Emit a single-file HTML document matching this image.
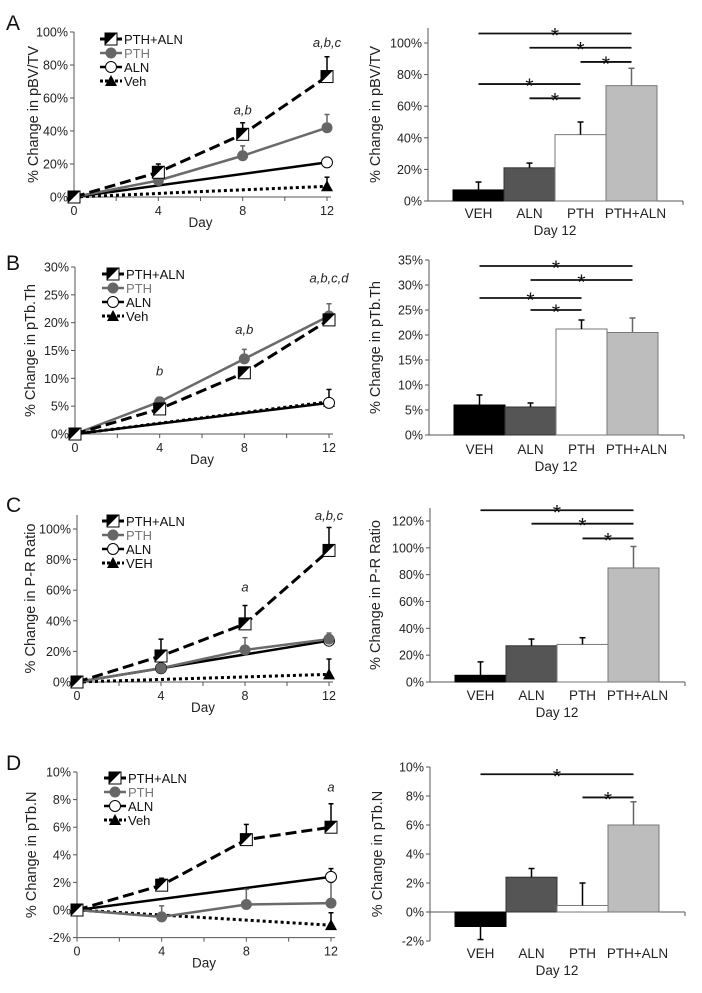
<!DOCTYPE html>
<html><head><meta charset="utf-8">
<style>
html,body{margin:0;padding:0;background:#fff;}
svg{display:block;font-family:"Liberation Sans",Arial,sans-serif;}
</style></head>
<body>
<svg id="fig" width="702" height="993" viewBox="0 0 702 993" xmlns="http://www.w3.org/2000/svg"></svg>
<script>
// ---------- DATA ----------
const days = [0, 4, 8, 12];
const groups = ["VEH", "ALN", "PTH", "PTH+ALN"];
// Panel A (pBV/TV)
const aPthAln = [0, 15, 38, 73];      const aPthAlnErr = [0, 20, 45, 85];
const aPth = [0, 10, 25, 42];         const aPthErr = [0, 10, 31, 50];
const aAln = [0, null, null, 21];     const aAlnErr = [0, null, null, 24];
const aVeh = [0, null, null, 6.5];    const aVehErr = [0, null, null, 12];
const aBars = [7, 21, 42, 73];        const aBarErr = [12, 24, 50, 84];
const aTicks = [0, 20, 40, 60, 80, 100];
// Panel B (pTb.Th)
const bPthAln = [0, 4.5, 11, 20.5];   const bPthAlnErr = [0, 5, 11.5, 21];
const bPth = [0, 5.8, 13.5, 21.2];    const bPthErr = [0, 6.6, 15.2, 23.4];
const bAln = [0, null, null, 5.6];    const bAlnErr = [0, null, null, 6.2];
const bVeh = [0, null, null, 5.8];    const bVehErr = [0, null, null, 8];
const bBars = [6, 5.6, 21.2, 20.5];   const bBarErr = [8, 6.4, 23, 23.4];
const bTicks = [0, 5, 10, 15, 20, 25, 30];
const bTicksR = [0, 5, 10, 15, 20, 25, 30, 35];
// Panel C (P-R ratio)
const cPthAln = [0, 17, 38, 86];      const cPthAlnErr = [0, 28, 50, 101];
const cPth = [0, 9, 21, 28];          const cPthErr = [0, 9, 29, 32];
const cAln = [0, 9, null, 27];        const cAlnErr = [0, 9, null, 30];
const cVeh = [0, null, null, 5];      const cVehErr = [0, null, null, 15];
const cBars = [5, 27, 28, 85];        const cBarErr = [15, 32, 33, 101];
const cTicks = [0, 20, 40, 60, 80, 100];
const cTicksR = [0, 20, 40, 60, 80, 100, 120];
// Panel D (pTb.N)
const dPthAln = [0, 1.8, 5.1, 6.0];   const dPthAlnErr = [0, 2.3, 6.2, 7.7];
const dPth = [0, -0.5, 0.4, 0.5];     const dPthErr = [0, 0.3, 1.5, 2.0];
const dAln = [0, null, null, 2.4];    const dAlnErr = [0, null, null, 3.0];
const dVeh = [0, null, null, -1.1];   const dVehErr = [0, null, null, -0.2];
const dBars = [-1, 2.4, 0.45, 6.0];   const dBarErr = [-1.9, 3.0, 2.0, 7.6];
const dTicks = [-2, 0, 2, 4, 6, 8, 10];
// Significance brackets [fromGroup, toGroup, yValue]
const aSig = [[0,3,106],[1,3,97],[2,3,88],[0,2,74],[1,2,65]];
const bSig = [[0,3,33.8],[1,3,31],[0,2,27.4],[1,2,25]];
const cSig = [[0,3,128],[1,3,118],[2,3,107]];
const dSig = [[0,3,9.5],[2,3,7.9]];
// Annotations [day, yValue, text]
const aNotes = [[8, 50, "a,b"], [12, 91, "a,b,c"]];
const bNotes = [[4, 10.5, "b"], [8, 18, "a,b"], [12, 27.2, "a,b,c,d"]];
const cNotes = [[8, 59, "a"], [12, 106, "a,b,c"]];
const dNotes = [[12, 8.6, "a"]];

// ---------- RENDER ----------
const NS = "http://www.w3.org/2000/svg";
const svg = document.getElementById("fig");
function mk(tag, attrs, parent, text) {
  const e = document.createElementNS(NS, tag);
  for (const k in attrs) e.setAttribute(k, attrs[k]);
  if (text !== undefined) e.textContent = text;
  (parent || svg).appendChild(e);
  return e;
}
function lin(v0, p0, v1, p1) { return v => p0 + (v - v0) * (p1 - p0) / (v1 - v0); }

function marker(g, kind, x, y) {
  if (kind === "pthaln") {
    mk("rect", {x: x-6, y: y-6, width: 12, height: 12, fill: "#fff", stroke: "#000", "stroke-width": 1}, g);
    mk("polygon", {points: `${x-6},${y-6} ${x+6},${y-6} ${x-6},${y+6}`, fill: "#000"}, g);
  } else if (kind === "pth") {
    mk("circle", {cx: x, cy: y, r: 5.5, fill: "#666"}, g);
  } else if (kind === "aln") {
    mk("circle", {cx: x, cy: y, r: 5.5, fill: "#fff", stroke: "#000", "stroke-width": 1}, g);
  } else {
    mk("polygon", {points: `${x},${y-6} ${x+6},${y+5} ${x-6},${y+5}`, fill: "#000"}, g);
  }
}
const styles = {
  pthaln: {stroke: "#000", w: 3, dash: "11,5"},
  pth: {stroke: "#6a6a6a", w: 2.5, dash: ""},
  aln: {stroke: "#000", w: 2.5, dash: ""},
  veh: {stroke: "#000", w: 3, dash: "3,3"}
};

function lineChart(p) {
  const g = mk("g", {});
  
  
  const xs = lin(0, p.x0, 12, p.x12);
  const ys = lin(0, p.y0, p.refV, p.refY);
  const bottom = ys(p.ticks[0]);
  const top = p.top !== undefined ? p.top : ys(p.ticks[p.ticks.length-1]);
  mk("line", {x1: p.x0, y1: top, x2: p.x0, y2: bottom, stroke: "#555", "stroke-width": 1}, g);
  mk("line", {x1: p.x0, y1: bottom, x2: p.x12 + 4, y2: bottom, stroke: "#555", "stroke-width": 1}, g);
  p.ticks.forEach(t => {
    const y = ys(t);
    mk("line", {x1: p.x0 - 4, y1: y, x2: p.x0, y2: y, stroke: "#555"}, g);
    const tl = mk("text", {x: p.x0 - 6, y: y + 4.5, "text-anchor": "end", "font-size": 12.5, fill: "#222"}, g, t + "%");
    
    
  });
  for (let d = 0; d <= 12; d += 2) {
    const x = xs(d);
    mk("line", {x1: x, y1: bottom, x2: x, y2: bottom + 4, stroke: "#555"}, g);
    if (d % 4 === 0) {
      const xl = mk("text", {x: x, y: bottom + 18, "text-anchor": "middle", "font-size": 12.5, fill: "#222"}, g, String(d));
      
      
    }
  }
  const xt = mk("text", {x: (p.x0 + p.x12)/2, y: bottom + 30, "text-anchor": "middle", "font-size": 13.5, fill: "#222"}, g, "Day");
  
  
  const cy = (top + bottom) / 2;
  const yt = mk("text", {x: 0, y: 0, transform: `translate(${p.titleX},${cy}) rotate(-90)`, "text-anchor": "middle", "font-size": 14.5, fill: "#222"}, g, p.title);
  
  
  const order = ["veh", "aln", "pth", "pthaln"];
  order.forEach(k => {
    const s = p.series[k];
    const pts = [];
    s.vals.forEach((v, i) => { if (v !== null) pts.push([xs(days[i]), ys(v), i]); });
    const ec = k === "pth" ? "#666" : "#000";
    s.err.forEach((e, i) => {
      if (e === null || s.vals[i] === null || i === 0) return;
      const x = xs(days[i]);
      const eb = mk("line", {x1: x, y1: ys(s.vals[i]), x2: x, y2: ys(e), stroke: ec, "stroke-width": 1.5}, g);
      
      
      mk("line", {x1: x - 2.5, y1: ys(e), x2: x + 2.5, y2: ys(e), stroke: ec, "stroke-width": 1.5}, g);
    });
    const st = styles[k];
    const pl = mk("polyline", {points: pts.map(q => q[0] + "," + q[1]).join(" "), fill: "none", stroke: st.stroke, "stroke-width": st.w, "stroke-dasharray": st.dash}, g);
    
    
    s.pts = pts;
  });
  order.forEach(k => {
    p.series[k].pts.forEach(q => marker(g, k, q[0], q[1]));
  });
  const labels = {pthaln: "PTH+ALN", pth: "PTH", aln: "ALN", veh: p.vehLabel};
  ["pthaln", "pth", "aln", "veh"].forEach((k, i) => {
    const y = p.legY + i * 14;
    const lg = mk("g", {}, g);
    
    
    const st = styles[k];
    mk("line", {x1: p.legX, y1: y, x2: p.legX + 22, y2: y, stroke: st.stroke, "stroke-width": st.w, "stroke-dasharray": k === "veh" ? "3,2" : ""}, lg);
    marker(lg, k, p.legX + 11, y);
    mk("text", {x: p.legX + 24, y: y + 5, "font-size": 13, fill: k === "pth" ? "#777" : "#111"}, lg, labels[k]);
  });
  p.notes.forEach(n => {
    const t = mk("text", {x: xs(n[0]), y: ys(n[1]), "text-anchor": "middle", "font-size": 13, "font-style": "italic", fill: "#222"}, g, n[2]);
    
    
  });
  const L = mk("text", {x: p.letterX, y: p.letterY, "font-size": 21, fill: "#111"}, g, p.letter);
  
  
}

function barChart(p) {
  const g = mk("g", {});
  
  
  const ys = lin(0, p.y0, p.refV, p.refY);
  const bw = 51;
  const x0 = p.barStart;
  const bottom = ys(p.ticks[0]);
  const base = ys(0);
  mk("line", {x1: p.ax, y1: p.top, x2: p.ax, y2: bottom, stroke: "#555"}, g);
  mk("line", {x1: p.ax, y1: base, x2: p.axEnd, y2: base, stroke: "#555"}, g);
  mk("line", {x1: p.axEnd, y1: base, x2: p.axEnd, y2: base + 4, stroke: "#555"}, g);
  p.ticks.forEach(t => {
    const y = ys(t);
    mk("line", {x1: p.ax - 4, y1: y, x2: p.ax, y2: y, stroke: "#555"}, g);
    const tl = mk("text", {x: p.ax - 6, y: y + 4.5, "text-anchor": "end", "font-size": 12.5, fill: "#222"}, g, t + "%");
    
    
  });
  const fills = ["#000", "#555", "#fff", "#bdbdbd"];
  const strokes = ["#000", "#333", "#777", "#777"];
  p.vals.forEach((v, i) => {
    const x = x0 + i * bw;
    const y1 = ys(Math.max(v, 0)), y2 = ys(Math.min(v, 0));
    const b = mk("rect", {x: x, y: y1, width: bw, height: Math.max(y2 - y1, 0.5), fill: fills[i], stroke: strokes[i], "stroke-width": 1}, g);
    
    
    const cx = x + bw / 2;
    const ec = i === 3 ? "#666" : "#000";
    const eb = mk("line", {x1: cx, y1: ys(v), x2: cx, y2: ys(p.err[i]), stroke: ec, "stroke-width": 1.5}, g);
    
    
    mk("line", {x1: cx - 3, y1: ys(p.err[i]), x2: cx + 3, y2: ys(p.err[i]), stroke: ec, "stroke-width": 1.5}, g);
    const lab = mk("text", {x: cx + (i === 3 ? 4 : 0), y: p.labY, "text-anchor": "middle", "font-size": 13.5, fill: "#222"}, g, groups[i]);
    
    
  });
  const dt = mk("text", {x: x0 + 2 * bw, y: p.labY + 17, "text-anchor": "middle", "font-size": 13.5, fill: "#222"}, g, "Day 12");
  
  
  p.sig.forEach(s => {
    const xa = x0 + s[0] * bw + bw / 2, xb = x0 + s[1] * bw + bw / 2, y = ys(s[2]);
    const sl = mk("line", {x1: xa, y1: y, x2: xb, y2: y, stroke: "#111", "stroke-width": 1.8}, g);
    
    
    const st = mk("text", {x: (xa + xb) / 2, y: y + 9, "text-anchor": "middle", "font-size": 21, fill: "#111"}, g, "*");
    
    
  });
  const cy = (p.top + bottom) / 2;
  const yt = mk("text", {x: 0, y: 0, transform: `translate(${p.titleX},${cy}) rotate(-90)`, "text-anchor": "middle", "font-size": 14.5, fill: "#222"}, g, p.title);
  
  
}

lineChart({name: "panel-a-line-chart", letter: "A", letterX: 6, letterY: 30, x0: 74, x12: 327, y0: 197, refV: 100, refY: 32,
  ticks: aTicks, title: "% Change in pBV/TV", titleX: 38, legX: 100, legY: 39, vehLabel: "Veh", notes: aNotes,
  series: {pthaln: {vals: aPthAln, err: aPthAlnErr}, pth: {vals: aPth, err: aPthErr}, aln: {vals: aAln, err: aAlnErr}, veh: {vals: aVeh, err: aVehErr}}});
barChart({name: "panel-a-bar-chart", ax: 428, axEnd: 683, top: 28, y0: 201, refV: 100, refY: 43, ticks: aTicks, barStart: 453,
  vals: aBars, err: aBarErr, sig: aSig, labY: 218, title: "% Change in pBV/TV", titleX: 380});

lineChart({name: "panel-b-line-chart", letter: "B", letterX: 6, letterY: 270, x0: 75, x12: 329, y0: 434, refV: 30, refY: 267,
  ticks: bTicks, title: "% Change in pTb.Th", titleX: 35, legX: 102, legY: 274, vehLabel: "Veh", notes: bNotes,
  series: {pthaln: {vals: bPthAln, err: bPthAlnErr}, pth: {vals: bPth, err: bPthErr}, aln: {vals: bAln, err: bAlnErr}, veh: {vals: bVeh, err: bVehErr}}});
barChart({name: "panel-b-bar-chart", ax: 429, axEnd: 684, top: 260, y0: 435, refV: 35, refY: 260, ticks: bTicksR, barStart: 454,
  vals: bBars, err: bBarErr, sig: bSig, labY: 454, title: "% Change in pTb.Th", titleX: 380});

lineChart({name: "panel-c-line-chart", letter: "C", letterX: 6, letterY: 512, x0: 77, x12: 329, y0: 682, refV: 100, refY: 529, top: 515,
  ticks: cTicks, title: "% Change in P-R Ratio", titleX: 35, legX: 102, legY: 521, vehLabel: "VEH", notes: cNotes,
  series: {pthaln: {vals: cPthAln, err: cPthAlnErr}, pth: {vals: cPth, err: cPthErr}, aln: {vals: cAln, err: cAlnErr}, veh: {vals: cVeh, err: cVehErr}}});
barChart({name: "panel-c-bar-chart", ax: 430, axEnd: 685, top: 508, y0: 682, refV: 120, refY: 521, ticks: cTicksR, barStart: 455,
  vals: cBars, err: cBarErr, sig: cSig, labY: 700, title: "% Change in P-R Ratio", titleX: 380});

lineChart({name: "panel-d-line-chart", letter: "D", letterX: 6, letterY: 770, x0: 77, x12: 331, y0: 910, refV: 10, refY: 772,
  ticks: dTicks, title: "% Change in pTb.N", titleX: 36, legX: 104, legY: 778, vehLabel: "Veh", notes: dNotes,
  series: {pthaln: {vals: dPthAln, err: dPthAlnErr}, pth: {vals: dPth, err: dPthErr}, aln: {vals: dAln, err: dAlnErr}, veh: {vals: dVeh, err: dVehErr}}});
barChart({name: "panel-d-bar-chart", ax: 430, axEnd: 685, top: 767, y0: 912, refV: 10, refY: 767, ticks: dTicks, barStart: 455,
  vals: dBars, err: dBarErr, sig: dSig, labY: 958, title: "% Change in pTb.N", titleX: 382});
</script>
</body></html>
